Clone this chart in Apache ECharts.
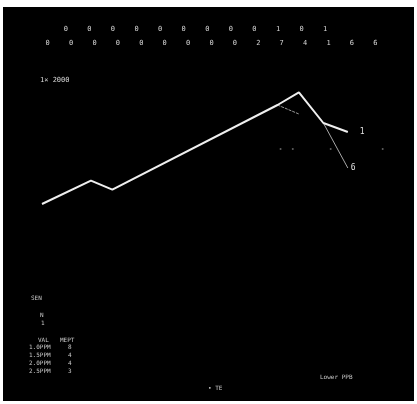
<!DOCTYPE html>
<html><head><meta charset="utf-8">
<script src="https://cdn.jsdelivr.net/npm/echarts@6/dist/echarts.min.js"></script>
<style>html,body{margin:0;background:#fff;width:417px;height:404px;overflow:hidden}
#c{position:absolute;left:3px;top:7px;width:411px;height:394px;background:#000}</style>
</head><body><div id="c"></div><script>
const topRow1 = ['0','0','0','0','0','0','0','0','0','1','0','1'];
const topRow2 = ['0','0','0','0','0','0','0','0','0','2','7','4','1','6','6'];
const mainX = [0,16,23,77,84,92,100];
const mainY = [20,33,28,75,82,65,60];
const branchAX = [77,84];
const branchAY = [75,70];
const branchBX = [92,100];
const branchBY = [65,40];
const dotX = [78,82,94.4,111.4];
const dotY = [50.5,50.5,50.5,50.5];
const tableVal = ['1.0PPM','1.5PPM','2.0PPM','2.5PPM'];
const tableMept = ['8','4','4','3'];
const scaleText = '1× 2000';
const mainEnd = '1';
const branchEnd = '6';

const zip = (xs, ys) => xs.map((x, i) => [x, ys[i]]);
const F = 'DejaVu Sans Mono';
const txt = (text, left, top, size, color) => ({
  text, left, top, textStyle:{fontSize:size||6, color:color||'#c8c8c8', fontFamily:F, fontWeight:'normal'}
});
const titles = [
  txt(scaleText, 32, 65, 7, '#d8d8d8'),
  txt('SEN', 23, 283),
  txt('N', 32, 300),
  txt('1', 33, 308),
  txt('VAL', 30, 325),
  txt('MEPT', 52, 325),
  txt('Lower PPB', 312, 362),
  txt('• TE', 200, 373)
];
tableVal.forEach((v, i) => titles.push(txt(v, 21, 332 + i*8)));
tableMept.forEach((v, i) => titles.push(txt(v, 60, 332 + i*8)));

const chart = echarts.init(document.getElementById('c'));
const hidden = {show:false};
chart.setOption({
  backgroundColor:'#000',
  animation:false,
  title: titles,
  grid:[
    {left:39, right:5, top:53, height:180},
    {left:51, right:77, top:14, height:1},
    {left:33, right:27, top:28, height:1}
  ],
  xAxis:[
    {type:'value', min:0, max:120, gridIndex:0, show:false},
    {type:'category', gridIndex:1, data:topRow1, axisLine:hidden, axisTick:hidden,
     axisLabel:{margin:4, fontSize:7, color:'#d8d8d8', fontFamily:F, interval:0}},
    {type:'category', gridIndex:2, data:topRow2, axisLine:hidden, axisTick:hidden,
     axisLabel:{margin:4, fontSize:7, color:'#d8d8d8', fontFamily:F, interval:0}}
  ],
  yAxis:[
    {type:'value', min:0, max:100, gridIndex:0, show:false},
    {type:'value', gridIndex:1, show:false},
    {type:'value', gridIndex:2, show:false}
  ],
  series:[
    {type:'line', data:zip(branchAX, branchAY), symbol:'none',
     lineStyle:{color:'#9a9a9a', width:1, type:[3,1]}},
    {type:'line', data:zip(branchBX, branchBY), symbol:'none',
     lineStyle:{color:'#a8a8a8', width:1},
     endLabel:{show:true, formatter:branchEnd, distance:3, color:'#e0e0e0', fontSize:8, fontFamily:F}},
    {type:'line', data:zip(mainX, mainY), symbol:'none',
     lineStyle:{color:'#efefef', width:2},
     endLabel:{show:true, formatter:mainEnd, distance:12, color:'#e0e0e0', fontSize:8, fontFamily:F}},
    {type:'scatter', data:zip(dotX, dotY), symbolSize:2, itemStyle:{color:'#777'}},
    {type:'line', xAxisIndex:1, yAxisIndex:1, data:[], symbol:'none'},
    {type:'line', xAxisIndex:2, yAxisIndex:2, data:[], symbol:'none'}
  ]
});
</script></body></html>
